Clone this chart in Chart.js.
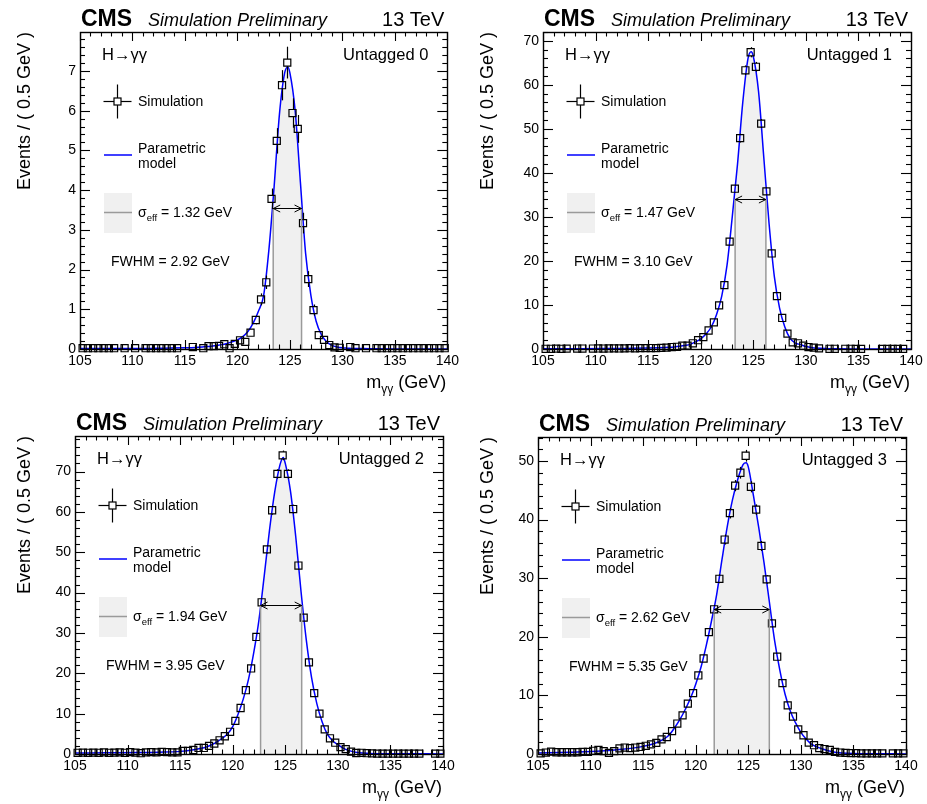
<!DOCTYPE html>
<html>
<head>
<meta charset="utf-8">
<script src="https://cdn.jsdelivr.net/npm/chart.js@4.4.0/dist/chart.umd.min.js"></script>
<style>
  html, body { margin: 0; padding: 0; background: #fff; }
  #wrap { position: relative; width: 927px; height: 804px; overflow: hidden; }
</style>
</head>
<body>
<div id="wrap"></div>
<script>
// bin centres, 0.5 GeV bins from 105 to 140
const bins = [105.25, 105.75, 106.25, 106.75, 107.25, 107.75, 108.25, 108.75, 109.25, 109.75,
  110.25, 110.75, 111.25, 111.75, 112.25, 112.75, 113.25, 113.75, 114.25, 114.75,
  115.25, 115.75, 116.25, 116.75, 117.25, 117.75, 118.25, 118.75, 119.25, 119.75,
  120.25, 120.75, 121.25, 121.75, 122.25, 122.75, 123.25, 123.75, 124.25, 124.75,
  125.25, 125.75, 126.25, 126.75, 127.25, 127.75, 128.25, 128.75, 129.25, 129.75,
  130.25, 130.75, 131.25, 131.75, 132.25, 132.75, 133.25, 133.75, 134.25, 134.75,
  135.25, 135.75, 136.25, 136.75, 137.25, 137.75, 138.25, 138.75, 139.25, 139.75];

const categories = ['Untagged 0', 'Untagged 1', 'Untagged 2', 'Untagged 3'];
const sigmaEff = ['1.32', '1.47', '1.94', '2.62'];
const fwhm = ['2.92', '3.10', '3.95', '5.35'];

// simulated events per bin (null = empty bin)
const sim0 = [0.02, 0.02, 0.02, 0.02, 0.02, 0.02, 0.02, null, 0.02, null,
  0.02, null, 0.02, 0.02, 0.02, 0.02, 0.02, 0.02, 0.02, null,
  null, 0.05, null, 0.02, 0.07, 0.07, 0.08, 0.12, 0.02, 0.13,
  0.22, 0.18, 0.41, 0.73, 1.25, 1.68, 3.78, 5.24, 6.64, 7.21,
  5.94, 5.54, 3.17, 1.76, 0.98, 0.35, 0.23, 0.10, 0.04, 0.03,
  null, 0.05, 0.02, null, 0.02, null, 0.02, 0.02, 0.02, 0.02,
  0.02, 0.02, 0.02, 0.02, 0.02, 0.02, 0.02, 0.02, 0.02, 0.02];
const sim1 = [0.05, 0.05, 0.08, 0.05, 0.08, null, 0.1, 0.1, null, 0.1,
  0.12, 0.1, 0.12, 0.15, 0.12, 0.15, 0.18, 0.15, 0.2, 0.2,
  0.22, 0.2, 0.25, 0.3, 0.45, 0.5, 0.76, 0.76, 1.3, 2.0,
  2.7, 4.2, 6.05, 9.9, 14.5, 24.4, 36.4, 47.9, 63.3, 67.4,
  64.1, 51.2, 35.8, 21.7, 12.0, 7.05, 3.5, 1.5, 1.3, 0.75,
  0.45, 0.3, 0.15, null, 0.05, 0.05, null, 0.05, 0.05, 0.03,
  0.03, null, null, null, 0.03, 0.03, 0.03, 0.03, 0.03, null];
const sim2 = [0.3, 0.35, 0.3, 0.35, 0.3, 0.4, 0.3, 0.35, 0.4, 0.3,
  0.45, 0.35, 0.2, 0.4, 0.45, 0.4, 0.5, 0.45, 0.4, 0.4,
  0.75, 0.75, 1.0, 1.5, 1.5, 2.0, 2.6, 3.4, 4.4, 5.5,
  8.2, 11.4, 15.8, 21.2, 29.0, 37.6, 50.7, 60.4, 69.4, 74.0,
  69.4, 60.7, 46.7, 33.8, 22.7, 15.1, 10.0, 6.1, 3.9, 2.8,
  1.7, 1.2, 0.6, 0.25, 0.3, 0.2, 0.15, 0.1, 0.1, 0.1,
  0.1, 0.1, 0.1, 0.1, 0.1, 0.1, null, null, 0.1, 0.1];
const sim3 = [0.1, 0.25, 0.4, 0.3, 0.3, 0.3, 0.3, 0.3, 0.35, 0.35,
  0.55, 0.7, 0.5, 0.2, 0.5, 0.95, 1.1, 1.0, 1.1, 1.2,
  1.4, 1.65, 1.9, 2.5, 2.9, 3.9, 5.2, 6.6, 8.6, 10.4,
  13.4, 16.3, 20.8, 24.7, 29.9, 36.6, 41.1, 45.8, 48.0, 50.9,
  45.6, 41.7, 35.5, 29.8, 22.3, 16.6, 12.1, 8.3, 6.4, 4.2,
  3.2, 1.95, 1.5, 1.0, 0.85, 0.7, 0.35, 0.25, 0.2, 0.15,
  0.15, 0.1, 0.1, 0.1, 0.1, 0.1, null, 0.1, 0.1, 0.1];

// statistical uncertainty per bin
const err0 = [0.03, 0.03, 0.03, 0.03, 0.03, 0.03, 0.03, 0.03, 0.03, 0.03,
  0.03, 0.03, 0.03, 0.03, 0.03, 0.03, 0.03, 0.03, 0.03, 0.03,
  0.03, 0.03, 0.03, 0.03, 0.03, 0.03, 0.03, 0.03, 0.03, 0.03,
  0.06, 0.06, 0.09, 0.11, 0.15, 0.17, 0.26, 0.32, 0.38, 0.4,
  0.37, 0.35, 0.26, 0.2, 0.14, 0.08, 0.06, 0.03, 0.03, 0.03,
  0.03, 0.03, 0.03, 0.03, 0.03, 0.03, 0.03, 0.03, 0.03, 0.03,
  0.03, 0.03, 0.03, 0.03, 0.03, 0.03, 0.03, 0.03, 0.03, 0.03];
const err1 = [0.1, 0.1, 0.1, 0.1, 0.1, 0.1, 0.1, 0.1, 0.1, 0.1,
  0.1, 0.1, 0.1, 0.1, 0.1, 0.1, 0.1, 0.1, 0.1, 0.1,
  0.1, 0.1, 0.1, 0.1, 0.1, 0.1, 0.1, 0.1, 0.1, 0.1,
  0.25, 0.3, 0.35, 0.45, 0.55, 0.7, 0.85, 1.0, 1.1, 1.15,
  1.1, 1.0, 0.85, 0.65, 0.5, 0.4, 0.3, 0.1, 0.1, 0.1,
  0.1, 0.1, 0.1, 0.1, 0.1, 0.1, 0.1, 0.1, 0.1, 0.1,
  0.1, 0.1, 0.1, 0.1, 0.1, 0.1, 0.1, 0.1, 0.1, 0.1];
const err2 = [0.15, 0.15, 0.15, 0.15, 0.15, 0.15, 0.15, 0.15, 0.15, 0.15,
  0.15, 0.15, 0.15, 0.15, 0.15, 0.15, 0.15, 0.15, 0.15, 0.15,
  0.15, 0.15, 0.15, 0.15, 0.15, 0.15, 0.15, 0.15, 0.15, 0.15,
  0.4, 0.45, 0.55, 0.65, 0.75, 0.85, 1.0, 1.1, 1.15, 1.2,
  1.15, 1.1, 0.95, 0.8, 0.65, 0.55, 0.45, 0.15, 0.15, 0.15,
  0.15, 0.15, 0.15, 0.15, 0.15, 0.15, 0.15, 0.15, 0.15, 0.15,
  0.15, 0.15, 0.15, 0.15, 0.15, 0.15, 0.15, 0.15, 0.15, 0.15];
const err3 = [0.15, 0.15, 0.15, 0.15, 0.15, 0.15, 0.15, 0.15, 0.15, 0.15,
  0.15, 0.15, 0.15, 0.15, 0.15, 0.15, 0.15, 0.15, 0.15, 0.15,
  0.15, 0.15, 0.15, 0.15, 0.15, 0.15, 0.15, 0.15, 0.15, 0.15,
  0.5, 0.55, 0.6, 0.7, 0.75, 0.85, 0.9, 0.95, 1.0, 1.0,
  0.95, 0.9, 0.85, 0.75, 0.65, 0.55, 0.5, 0.2, 0.2, 0.2,
  0.2, 0.2, 0.2, 0.2, 0.2, 0.2, 0.2, 0.2, 0.2, 0.2,
  0.2, 0.2, 0.2, 0.2, 0.2, 0.2, 0.2, 0.2, 0.2, 0.2];

const modelX = [105, 108, 111, 113, 115, 116, 117,
  117.5, 118, 118.5, 119, 119.5, 120, 120.5, 121, 121.5, 122, 122.5, 123, 123.5, 124, 124.5,
  124.8,
  125, 125.5, 126, 126.5, 127, 127.5, 128, 128.5, 129, 129.5, 130, 130.5, 131,
  132, 133, 135, 140];
const model0 = [0.01, 0.01, 0.01, 0.02, 0.03, 0.04, 0.06,
  0.07, 0.09, 0.11, 0.14, 0.18, 0.23, 0.31, 0.44, 0.65, 0.95, 1.35, 2.5, 4.1, 5.9, 6.95,
  7.1,
  6.95, 6.0, 4.2, 2.4, 1.35, 0.7, 0.36, 0.18, 0.09, 0.05, 0.03, 0.02, 0.01,
  0.01, 0.005, 0, 0];
const model1 = [0.05, 0.07, 0.1, 0.14, 0.2, 0.27, 0.38,
  0.48, 0.62, 0.8, 1.05, 1.6, 2.3, 3.4, 5.0, 7.8, 12.0, 19.0, 30.0, 42.0, 56.0, 66.0,
  67.5,
  66.5, 58.5, 43.5, 28.5, 16.5, 9.3, 5.0, 2.4, 1.35, 1.0, 0.55, 0.35, 0.2,
  0.08, 0.03, 0.01, 0];
const model2 = [0.25, 0.3, 0.35, 0.45, 0.65, 0.95, 1.4,
  1.75, 2.3, 3.0, 3.9, 4.95, 6.8, 9.8, 13.6, 18.5, 25.1, 33.3, 44.2, 55.5, 65.0, 71.7,
  73.5,
  72.0, 65.0, 53.7, 40.2, 28.2, 18.9, 12.5, 8.0, 4.9, 3.3, 2.3, 1.45, 0.9,
  0.3, 0.15, 0.08, 0.02];
const model3 = [0.15, 0.3, 0.5, 0.8, 1.3, 1.75, 2.6,
  3.3, 4.5, 5.9, 7.6, 9.5, 11.9, 14.8, 18.5, 22.7, 27.3, 33.2, 38.8, 43.4, 46.9, 49.4,
  49.7,
  49.0, 44.0, 38.6, 32.6, 26.0, 19.4, 14.3, 10.2, 7.3, 5.3, 3.7, 2.55, 1.7,
  0.9, 0.4, 0.1, 0.02];

// sigma_eff window and the height of its arrow
const sigmaLo = [123.41, 123.27, 122.65, 121.76];
const sigmaHi = [126.11, 126.2, 126.56, 127.0];
const sigmaY = [3.54, 34.0, 36.9, 24.7];

// axes
const xTicks = [105, 110, 115, 120, 125, 130, 135, 140];
const yTicks0 = [0, 1, 2, 3, 4, 5, 6, 7];
const yTicks1 = [0, 10, 20, 30, 40, 50, 60, 70];
const yTicks2 = [0, 10, 20, 30, 40, 50, 60, 70];
const yTicks3 = [0, 10, 20, 30, 40, 50];
const yMax = [7.98, 72.0, 78.8, 54.1];
const yMinor = [0.2, 2, 2, 2];

const simSets = [sim0, sim1, sim2, sim3];
const errSets = [err0, err1, err2, err3];
const modelSets = [model0, model1, model2, model3];
const yTickSets = [yTicks0, yTicks1, yTicks2, yTicks3];

// canvas placement
const panelBox = [
  {left: 0, top: 0, w: 463, h: 404, padL: 80, padR: 15, padT: 32, axisH: 55},
  {left: 463, top: 0, w: 464, h: 404, padL: 80, padR: 16, padT: 32, axisH: 55},
  {left: 0, top: 404, w: 463, h: 400, padL: 75, padR: 20, padT: 32, axisH: 50},
  {left: 463, top: 404, w: 464, h: 400, padL: 75, padR: 21, padT: 33, axisH: 50}
];

const FONT = '"Liberation Sans", Arial, Helvetica, sans-serif';
Chart.defaults.font.family = FONT;
Chart.defaults.color = '#000';

function line(ctx, x1, y1, x2, y2) {
  ctx.beginPath();
  ctx.moveTo(x1, y1);
  ctx.lineTo(x2, y2);
  ctx.stroke();
}

// parts: [text, size, baseline shift]
function richText(ctx, parts, x, y, align) {
  let total = 0;
  parts.forEach(p => {
    ctx.font = p[1] + 'px ' + FONT;
    total += ctx.measureText(p[0]).width;
  });
  let cx = align === 'right' ? x - total : x;
  ctx.textAlign = 'left';
  ctx.textBaseline = 'alphabetic';
  parts.forEach(p => {
    ctx.font = p[1] + 'px ' + FONT;
    ctx.fillText(p[0], cx, y + p[2]);
    cx += ctx.measureText(p[0]).width;
  });
}

function decoPlugin(k) {
  return {
    id: 'deco' + k,
    afterDatasetsDraw(chart) {
      const ctx = chart.ctx;
      const xs = chart.scales.x, ys = chart.scales.y;
      const sim = simSets[k], err = errSets[k];
      ctx.save();

      // sigma_eff boundaries
      ctx.strokeStyle = '#9a9a9a';
      ctx.lineWidth = 1.5;
      [sigmaLo[k], sigmaHi[k]].forEach(v => {
        const px = xs.getPixelForValue(v);
        line(ctx, px, ys.getPixelForValue(0), px, ys.getPixelForValue(sigmaY[k]));
      });

      // double arrow
      ctx.strokeStyle = '#000';
      ctx.lineWidth = 1;
      const ay = Math.round(ys.getPixelForValue(sigmaY[k])) + 0.5;
      const a1 = xs.getPixelForValue(sigmaLo[k]), a2 = xs.getPixelForValue(sigmaHi[k]);
      line(ctx, a1, ay, a2, ay);
      ctx.beginPath();
      ctx.moveTo(a1 + 7, ay - 3.5); ctx.lineTo(a1, ay); ctx.lineTo(a1 + 7, ay + 3.5);
      ctx.moveTo(a2 - 7, ay - 3.5); ctx.lineTo(a2, ay); ctx.lineTo(a2 - 7, ay + 3.5);
      ctx.stroke();

      // error bars outside the markers
      const half = 3.5;
      ctx.lineWidth = 1.2;
      bins.forEach((x, i) => {
        const v = sim[i];
        if (v === null) return;
        const px = Math.round(xs.getPixelForValue(x)) + 0.5;
        const py = ys.getPixelForValue(v);
        const pt = ys.getPixelForValue(v + err[i]);
        const pb = ys.getPixelForValue(Math.max(v - err[i], 0));
        if (pt < py - half) line(ctx, px, pt, px, py - half);
        if (pb > py + half) line(ctx, px, py + half, px, pb);
      });
      ctx.restore();
    },
    afterDraw(chart) {
      const ctx = chart.ctx;
      const {left, right, top, bottom} = chart.chartArea;
      const xs = chart.scales.x, ys = chart.scales.y;
      ctx.save();
      ctx.strokeStyle = '#000';
      ctx.lineWidth = 1.4;

      // frame
      ctx.strokeRect(Math.round(left) + 0.5, Math.round(top) + 0.5,
        Math.round(right - left), Math.round(bottom - top));

      // inward ticks
      ctx.lineWidth = 1.1;
      for (let v = 105; v <= 140; v++) {
        const px = Math.round(xs.getPixelForValue(v)) + 0.5;
        const len = v % 5 === 0 ? 9 : 4.5;
        line(ctx, px, bottom, px, bottom - len);
        line(ctx, px, top, px, top + len);
      }
      const n = Math.floor(yMax[k] / yMinor[k] + 1e-6);
      for (let i = 0; i <= n; i++) {
        const py = Math.round(ys.getPixelForValue(i * yMinor[k])) + 0.5;
        const len = i % 5 === 0 ? 10 : 5;
        line(ctx, left, py, left + len, py);
        line(ctx, right, py, right - len, py);
      }

      ctx.fillStyle = '#000';
      // header
      ctx.textBaseline = 'alphabetic';
      ctx.textAlign = 'left';
      ctx.font = 'bold 23px ' + FONT;
      ctx.fillText('CMS', left + 1, top - 6);
      ctx.font = 'italic 18px ' + FONT;
      ctx.fillText('Simulation Preliminary', left + 68, top - 6);
      ctx.textAlign = 'right';
      ctx.font = '20px ' + FONT;
      ctx.fillText('13 TeV', right - 3, top - 6);

      // in-frame labels
      ctx.font = '16.5px ' + FONT;
      ctx.fillText(categories[k], right - 19, top + 28);
      ctx.textAlign = 'left';
      ctx.fillText('H\u2192\u03b3\u03b3', left + 22, top + 28);

      // legend: simulation marker
      ctx.lineWidth = 1.2;
      const mx = left + 37.5, my = top + 69.5;
      ctx.strokeRect(mx - 3.5, my - 3.5, 7, 7);
      line(ctx, mx, my - 17, mx, my - 3.5);
      line(ctx, mx, my + 3.5, mx, my + 17);
      line(ctx, mx - 14, my, mx - 3.5, my);
      line(ctx, mx + 3.5, my, mx + 14, my);
      ctx.font = '14px ' + FONT;
      ctx.fillText('Simulation', left + 58, top + 74);

      // legend: model line
      ctx.strokeStyle = '#0000ff';
      ctx.lineWidth = 1.5;
      line(ctx, left + 24, top + 123, left + 52, top + 123);
      ctx.fillText('Parametric', left + 58, top + 121);
      ctx.fillText('model', left + 58, top + 136);

      // legend: sigma_eff box
      ctx.fillStyle = '#f0f0f0';
      ctx.fillRect(left + 24, top + 161, 28, 40);
      ctx.strokeStyle = '#9a9a9a';
      line(ctx, left + 24, top + 180.5, left + 52, top + 180.5);
      ctx.fillStyle = '#000';
      richText(ctx, [['\u03c3', 14, 0], ['eff', 9.5, 3.5], [' = ' + sigmaEff[k] + ' GeV', 14, 0]],
        left + 58, top + 185, 'left');
      ctx.font = '14px ' + FONT;
      ctx.textAlign = 'left';
      ctx.fillText('FWHM = ' + fwhm[k] + ' GeV', left + 31, top + 234);

      // x-axis title
      richText(ctx, [['m', 18, 0], ['\u03b3\u03b3', 12, 5], [' (GeV)', 18, 0]],
        right - 1, bottom + 39, 'right');
      ctx.restore();
    }
  };
}

function makeChart(k) {
  const box = panelBox[k];
  const holder = document.createElement('div');
  holder.style.cssText = 'position:absolute;left:' + box.left + 'px;top:' + box.top +
    'px;width:' + box.w + 'px;height:' + box.h + 'px';
  const canvas = document.createElement('canvas');
  canvas.width = box.w;
  canvas.height = box.h;
  holder.appendChild(canvas);
  document.getElementById('wrap').appendChild(holder);

  const sim = simSets[k], model = modelSets[k];
  const lo = sigmaLo[k], hi = sigmaHi[k];
  const pointData = bins.map((x, i) => ({x: x, y: sim[i]}));
  const curveData = modelX.map((x, i) => ({x: x, y: model[i]}));
  const bandData = [{x: lo, y: sigmaY[k]}];
  modelX.forEach((x, i) => {
    if (x > lo && x < hi) bandData.push({x: x, y: model[i]});
  });
  bandData.push({x: hi, y: sigmaY[k]});

  new Chart(canvas, {
    type: 'line',
    data: {
      datasets: [{
        label: 'Simulation',
        data: pointData,
        showLine: false,
        pointStyle: 'rect',
        pointRadius: 5,
        pointHoverRadius: 5,
        pointBorderColor: '#000',
        pointBackgroundColor: 'rgba(0,0,0,0)',
        pointBorderWidth: 1.2,
        clip: false,
        order: 0
      }, {
        label: 'Parametric model',
        data: curveData,
        borderColor: '#0000ff',
        borderWidth: 1.5,
        pointRadius: 0,
        cubicInterpolationMode: 'monotone',
        fill: false,
        clip: false,
        order: 1
      }, {
        label: 'sigma_eff',
        data: bandData,
        borderWidth: 0,
        pointRadius: 0,
        backgroundColor: '#f0f0f0',
        fill: 'origin',
        cubicInterpolationMode: 'monotone',
        order: 2
      }]
    },
    options: {
      responsive: false,
      animation: false,
      events: [],
      layout: {padding: {left: 0, right: box.padR, top: box.padT, bottom: 0}},
      plugins: {
        legend: {display: false},
        tooltip: {enabled: false}
      },
      scales: {
        x: {
          type: 'linear',
          min: 105,
          max: 140,
          afterBuildTicks: s => { s.ticks = xTicks.map(v => ({value: v})); },
          afterFit: s => { s.height = box.axisH; },
          grid: {display: false, drawTicks: false},
          border: {display: false},
          ticks: {font: {size: 14}, color: '#000', padding: 4, maxRotation: 0, autoSkip: false}
        },
        y: {
          type: 'linear',
          min: 0,
          max: yMax[k],
          afterBuildTicks: s => { s.ticks = yTickSets[k].map(v => ({value: v})); },
          afterFit: s => { s.width = box.padL; },
          grid: {display: false, drawTicks: false},
          border: {display: false},
          ticks: {font: {size: 14}, color: '#000', padding: 4},
          title: {
            display: true,
            text: 'Events / ( 0.5 GeV )',
            align: 'end',
            font: {size: 18},
            color: '#000',
            padding: {top: 14, bottom: 0}
          }
        }
      }
    },
    plugins: [decoPlugin(k)]
  });
}

[0, 1, 2, 3].forEach(makeChart);
</script>
</body>
</html>
